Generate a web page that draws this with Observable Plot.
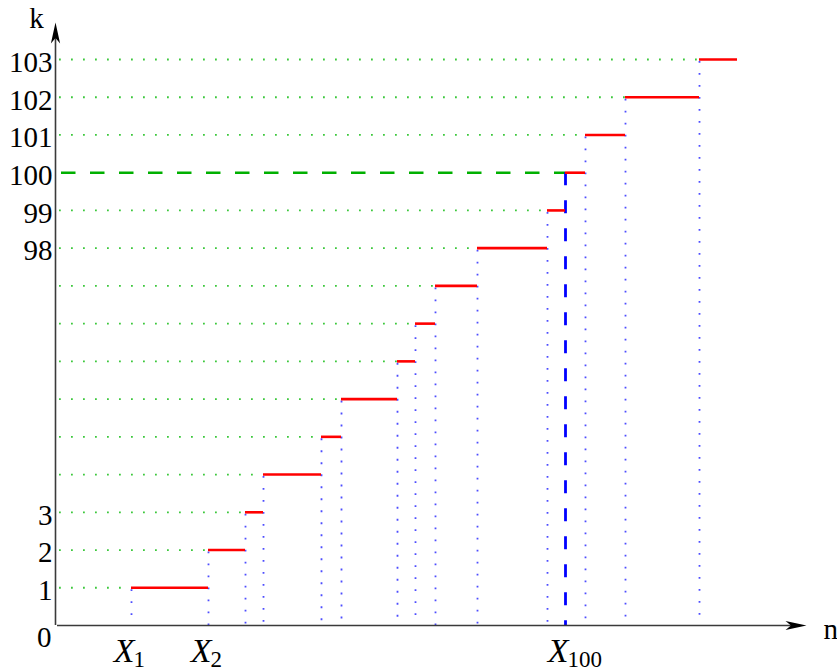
<!DOCTYPE html>
<html><head><meta charset="utf-8">
<script src="https://cdn.jsdelivr.net/npm/d3@7"></script>
<script src="https://cdn.jsdelivr.net/npm/@observablehq/plot@0.6"></script>
<style>body{margin:0;background:#fff} #chart svg{display:block}</style>
</head><body><div id="chart"></div>
<script>
// jump times X_1 ... (arbitrary time units along n)
const jumpTimes = [7.6, 15.3, 19.0, 20.8, 26.6, 28.6, 34.2, 36.0, 38.0, 42.2, 49.2, 51.0, 53.0, 57.0, 64.4];
const endTime = 68.2;
// k value shown at each step index (blank = unlabeled)
const levelLabels = ["0","1","2","3","","","","","","","98","99","100","101","102","103"];
const highlightIndex = 11;           // the jump to k = 100 (X_100)
const xLabelIndex = [0, 1, 11];
const xLabelSubs = ["1", "2", "100"];
const axisLabels = ["k", "n"];
const axisXEnd = 75.1;
const axisYEnd = 15.98;

const steps = jumpTimes.map((t, i) => ({
  t, level: i + 1,
  end: i + 1 < jumpTimes.length ? jumpTimes[i + 1] : endTime,
  highlight: i === highlightIndex
}));
const yTicks = levelLabels.map((label, level) => ({label, level})).filter(d => d.label !== "" && d.level > 0);
const zeroTick = [{label: levelLabels[0], level: 0}];
const xLabs = xLabelIndex.map((i, j) => ({t: jumpTimes[i], sub: xLabelSubs[j]}));

const stealth = {
  draw(ctx) {
    ctx.moveTo(0, 0);
    ctx.lineTo(4.6, 21);
    ctx.lineTo(0, 15.5);
    ctx.lineTo(-4.6, 21);
    ctx.closePath();
  }
};

const serif = "Liberation Serif, Times New Roman, serif";
const plot = Plot.plot({
  width: 837, height: 671,
  marginLeft: 55, marginRight: 32, marginTop: 59, marginBottom: 46,
  x: {domain: [0, 75], axis: null},
  y: {domain: [0, 15], axis: null},
  style: {fontFamily: serif, background: "#fff"},
  marks: [
    Plot.ruleY(steps.filter(d => !d.highlight), {y: "level", x1: d => 0, x2: "t", stroke: "#3cc83c", strokeWidth: 1.8, strokeDasharray: "1.8,10.2", strokeDashoffset: -4}),
    Plot.ruleY(steps.filter(d => d.highlight), {y: "level", x1: d => 0, x2: "t", stroke: "#00b000", strokeWidth: 2.6, strokeDasharray: "14.5,14.5", strokeDashoffset: -6}),
    Plot.ruleX(steps.filter(d => !d.highlight), {x: "t", y1: "level", y2: d => 0, stroke: "#4d4dff", strokeWidth: 1.8, strokeDasharray: "1.8,10.2", strokeDashoffset: -2}),
    Plot.ruleX(steps.filter(d => d.highlight), {x: "t", y1: "level", y2: d => 0, stroke: "#0000ff", strokeWidth: 2.8, strokeDasharray: "13,15"}),
    Plot.ruleY(steps, {y: "level", x1: "t", x2: "end", stroke: "#ff0000", strokeWidth: 2.6}),
    Plot.ruleY([0], {y: d => d, x1: d => 0.2, x2: d => axisXEnd - 1, stroke: "#3a3a3a", strokeWidth: 1.6}),
    Plot.ruleX([0], {x: d => d, y1: d => 0, y2: d => axisYEnd - 0.3, stroke: "#3a3a3a", strokeWidth: 1.6}),
    Plot.dot([0], {x: d => axisXEnd, y: d => 0, symbol: stealth, fill: "#000", stroke: "none", rotate: 90}),
    Plot.dot([0], {x: d => 0, y: d => axisYEnd, symbol: stealth, fill: "#000", stroke: "none"}),
    Plot.text(yTicks, {x: d => 0, y: "level", text: "label", textAnchor: "end", dx: -3, dy: 3, fontSize: 29, fill: "#000"}),
    Plot.text(zeroTick, {x: d => 0, y: "level", text: "label", textAnchor: "end", dx: -4, dy: 12, fontSize: 29, fill: "#000"}),
    Plot.text(xLabs, {x: "t", y: d => 0, text: d => "X", textAnchor: "end", lineAnchor: "bottom", dx: 3, dy: 36, fontSize: 34, fontStyle: "italic", fill: "#000"}),
    Plot.text(xLabs, {x: "t", y: d => 0, text: "sub", textAnchor: "start", lineAnchor: "bottom", dx: 2, dy: 41, fontSize: 23, fill: "#000"}),
    Plot.text([axisLabels[0]], {frameAnchor: "top-left", text: d => d, textAnchor: "middle", lineAnchor: "bottom", dx: -19, dy: -32, fontSize: 29, fill: "#000"}),
    Plot.text([axisLabels[1]], {frameAnchor: "bottom-right", text: d => d, textAnchor: "start", lineAnchor: "bottom", dx: 18, dy: 13, fontSize: 29, fill: "#000"})
  ]
});
document.getElementById("chart").append(plot);
</script>
</body></html>
